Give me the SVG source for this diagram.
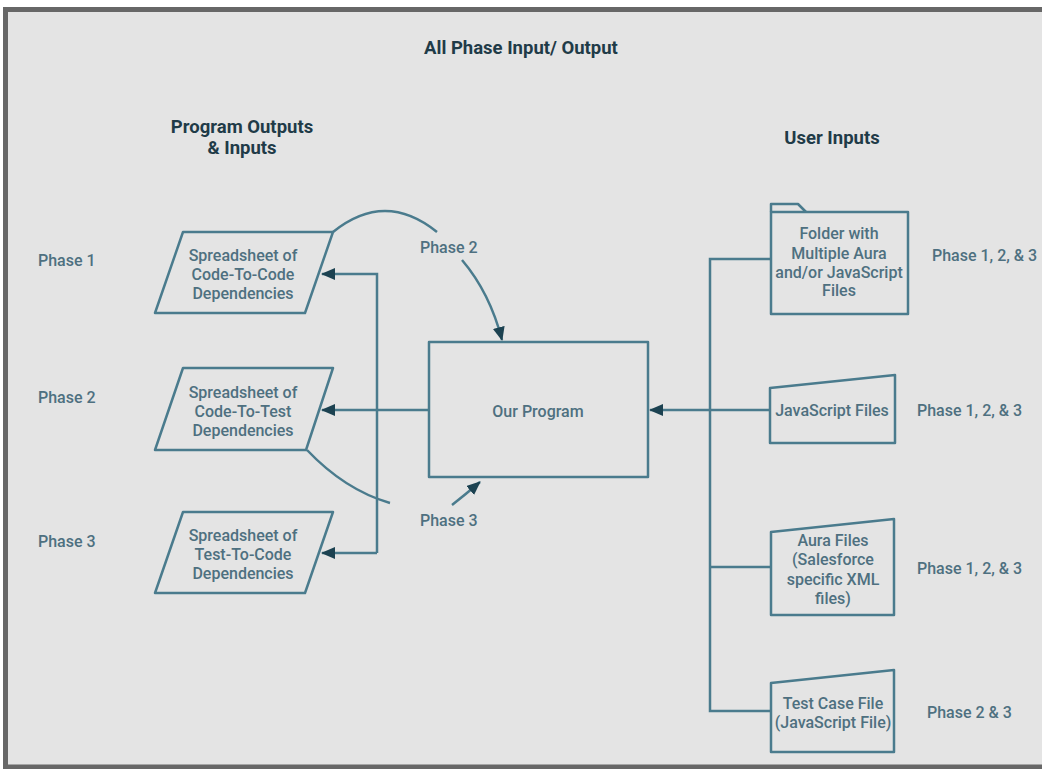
<svg xmlns="http://www.w3.org/2000/svg" width="1042" height="769" viewBox="0 0 1042 769">
<defs>
<marker id="ah" markerUnits="userSpaceOnUse" markerWidth="16" markerHeight="14" refX="13" refY="6" orient="auto">
<path d="M0,0 L14,6 L0,12 z" fill="#1c4251"/>
</marker>
<style>
.ln{fill:none;stroke:#4a7b8d;stroke-width:2.5}
.sh{fill:none;stroke:#4a7b8d;stroke-width:2.5;stroke-linejoin:round}
.t{font-family:Roboto,"Liberation Sans",sans-serif;font-size:16px;font-weight:500;fill:#4e7080;text-anchor:middle;dominant-baseline:central}
.lb{font-family:Roboto,"Liberation Sans",sans-serif;font-size:16px;font-weight:500;fill:#4e7080;dominant-baseline:central}
.h{font-family:Roboto,"Liberation Sans",sans-serif;font-size:18.5px;font-weight:bold;fill:#1f3b48;text-anchor:middle;dominant-baseline:central}
</style>
</defs>
<rect x="0" y="0" width="1042" height="769" fill="#ffffff"/>
<rect x="5.5" y="9.5" width="1050" height="757.5" fill="#e4e4e4" stroke="#676767" stroke-width="5"/>

<text class="h" x="521" y="48">All Phase Input/ Output</text>
<text class="h" x="242" y="127">Program Outputs</text>
<text class="h" x="242" y="148">&amp; Inputs</text>
<text class="h" x="832" y="138">User Inputs</text>

<text class="lb" x="38" y="260">Phase 1</text>
<text class="lb" x="38" y="397">Phase 2</text>
<text class="lb" x="38" y="541">Phase 3</text>

<g id="connectors">
<polyline class="ln" points="377,553 377,274 322,274" marker-end="url(#ah)"/>
<polyline class="ln" points="377,553 322,553" marker-end="url(#ah)"/>
<line class="ln" x1="429" y1="410" x2="322" y2="410" marker-end="url(#ah)"/>
<polyline class="ln" points="771,259 710,259 710,711 771,711"/>
<line class="ln" x1="710" y1="567" x2="771" y2="567"/>
<line class="ln" x1="770" y1="410" x2="650" y2="410" marker-end="url(#ah)"/>
<path class="ln" d="M333,232 Q385,190 437,232"/>
<path class="ln" d="M462,260 Q490,293 502,340" marker-end="url(#ah)"/>
<path class="ln" d="M307,450 Q345,490 390,503"/>
<path class="ln" d="M452,505 Q466,494 480,482" marker-end="url(#ah)"/>
<text class="lb" x="420" y="247">Phase 2</text>
<text class="lb" x="420" y="520">Phase 3</text>
</g>

<g id="out1">
<polygon class="sh" points="183,232 333,232 305,313 155,313"/>
<text class="t" x="243" y="255">Spreadsheet of</text>
<text class="t" x="243" y="274">Code-To-Code</text>
<text class="t" x="243" y="293">Dependencies</text>
</g>
<g id="out2">
<polygon class="sh" points="183,368 333,368 306,450 155,450"/>
<text class="t" x="243" y="392">Spreadsheet of</text>
<text class="t" x="243" y="411">Code-To-Test</text>
<text class="t" x="243" y="430">Dependencies</text>
</g>
<g id="out3">
<polygon class="sh" points="183,512 333,512 305,593 155,593"/>
<text class="t" x="243" y="535">Spreadsheet of</text>
<text class="t" x="243" y="554">Test-To-Code</text>
<text class="t" x="243" y="573">Dependencies</text>
</g>

<g id="program">
<rect class="sh" x="429" y="342" width="219" height="135"/>
<text class="t" x="538" y="411">Our Program</text>
</g>

<g id="folder">
<path class="sh" d="M771,212 L771,204 L798,204 L806,212"/>
<rect class="sh" x="771" y="212" width="137" height="102"/>
<text class="t" x="839" y="233">Folder with</text>
<text class="t" x="839" y="253">Multiple Aura</text>
<text class="t" x="839" y="272">and/or JavaScript</text>
<text class="t" x="839" y="290">Files</text>
<text class="lb" x="932" y="255">Phase 1, 2, &amp; 3</text>
</g>

<g id="jsfiles">
<polygon class="sh" points="770,388 895,375 895,443 770,443"/>
<text class="t" x="832" y="410">JavaScript Files</text>
<text class="lb" x="917" y="410">Phase 1, 2, &amp; 3</text>
</g>

<g id="aura">
<polygon class="sh" points="771,532 894,519 894,615 771,615"/>
<text class="t" x="833" y="540">Aura Files</text>
<text class="t" x="833" y="559">(Salesforce</text>
<text class="t" x="833" y="579">specific XML</text>
<text class="t" x="833" y="598">files)</text>
<text class="lb" x="917" y="568">Phase 1, 2, &amp; 3</text>
</g>

<g id="testcase">
<polygon class="sh" points="771,683 894,670 894,752 771,752"/>
<text class="t" x="833" y="703">Test Case File</text>
<text class="t" x="833" y="722">(JavaScript File)</text>
<text class="lb" x="927" y="712">Phase 2 &amp; 3</text>
</g>
</svg>
